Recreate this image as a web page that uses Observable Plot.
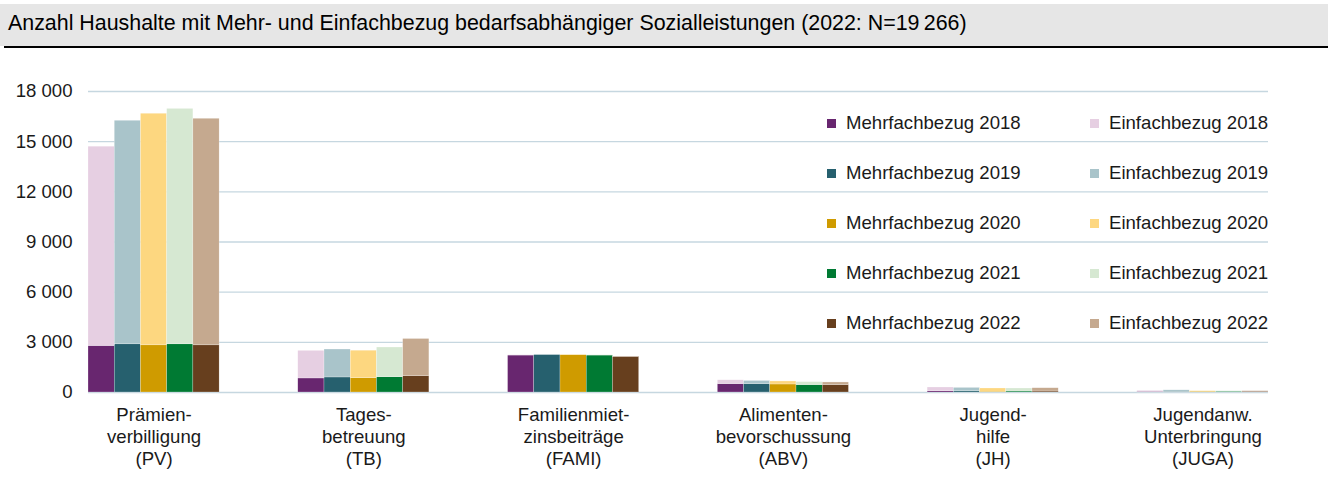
<!DOCTYPE html>
<html>
<head>
<meta charset="utf-8">
<script src="https://cdn.jsdelivr.net/npm/d3@7"></script>
<script src="https://cdn.jsdelivr.net/npm/@observablehq/plot@0.6"></script>
<style>
  body { margin: 0; background: #fff; font-family: "Liberation Sans", Arial, sans-serif; }
  #wrap { position: relative; width: 1328px; height: 477px; overflow: hidden; }
  #title { position: absolute; left: 0; top: 4px; width: 1328px; height: 42px; background: #e6e6e6; }
  #title span { position: absolute; left: 8px; top: 7px; font-size: 21.4px; color: #000; white-space: nowrap; }
  #rule { position: absolute; left: 4px; top: 46px; width: 1324px; height: 1.5px; background: #000; }
  .layer { position: absolute; left: 0; top: 50px; }
  .leg { position: absolute; font-size: 18.6px; color: #1a1a1a; white-space: nowrap; line-height: 20px; }
  .sw { position: absolute; width: 9px; height: 9px; }
</style>
</head>
<body>
<div id="wrap">
  <div id="title"><span>Anzahl Haushalte mit Mehr- und Einfachbezug bedarfsabhängiger Sozialleistungen (2022: N=19&#8239;266)</span></div>
  <div id="rule"></div>
  <div id="grid" class="layer"></div>
  <div id="chart" class="layer"></div>
  <div id="legend"></div>
</div>
<script>
// ---- data ----
const categories = ["PV", "TB", "FAMI", "ABV", "JH", "JUGA"];
const categoryLabels = [
  "Prämien-\nverbilligung\n(PV)",
  "Tages-\nbetreuung\n(TB)",
  "Familienmiet-\nzinsbeiträge\n(FAMI)",
  "Alimenten-\nbevorschussung\n(ABV)",
  "Jugend-\nhilfe\n(JH)",
  "Jugendanw.\nUnterbringung\n(JUGA)"
];
const years = [2018, 2019, 2020, 2021, 2022];
// values per year, in category order
const mehrfach2018 = [2780, 840, 2210, 500, 70, 40];
const mehrfach2019 = [2880, 900, 2250, 500, 70, 40];
const mehrfach2020 = [2820, 850, 2230, 480, 50, 50];
const mehrfach2021 = [2880, 910, 2210, 440, 60, 50];
const mehrfach2022 = [2820, 970, 2130, 440, 60, 50];
const einfach2018 = [11920, 1650, 20, 230, 230, 60];
const einfach2019 = [13370, 1670, 20, 190, 205, 90];
const einfach2020 = [13850, 1650, 20, 180, 190, 30];
const einfach2021 = [14080, 1780, 20, 180, 180, 30];
const einfach2022 = [13550, 2230, 20, 160, 195, 30];
const yTicks = [0, 3000, 6000, 9000, 12000, 15000, 18000];

const seriesNames = [
  "Mehrfachbezug 2018", "Mehrfachbezug 2019", "Mehrfachbezug 2020", "Mehrfachbezug 2021", "Mehrfachbezug 2022",
  "Einfachbezug 2018", "Einfachbezug 2019", "Einfachbezug 2020", "Einfachbezug 2021", "Einfachbezug 2022"
];
const seriesColors = [
  "#68266f", "#26606e", "#cf9b00", "#007a33", "#673f1e",
  "#e6cfe2", "#a9c4ca", "#fdd780", "#d6e8d2", "#c5a98f"
];

// ---- table ----
const mehr = [mehrfach2018, mehrfach2019, mehrfach2020, mehrfach2021, mehrfach2022];
const einf = [einfach2018, einfach2019, einfach2020, einfach2021, einfach2022];
const rows = [];
years.forEach((yr, i) => categories.forEach((c, j) => rows.push({cat: c, year: String(yr), series: "Mehrfachbezug " + yr, value: mehr[i][j]})));
years.forEach((yr, i) => categories.forEach((c, j) => rows.push({cat: c, year: String(yr), series: "Einfachbezug " + yr, value: einf[i][j]})));

const labelOf = new Map(categories.map((c, i) => [c, categoryLabels[i]]));
const fmt = d => d3.format(",")(d).replace(/,/g, " ");

const font = '"Liberation Sans", Arial, sans-serif';
const fs = 18.6;
const frame = {
  width: 1328,
  height: 427,
  marginLeft: 88,
  marginRight: 60,
  marginTop: 41,
  marginBottom: 85
};

// background layer: grid + y axis
const grid = Plot.plot({
  ...frame,
  style: {fontFamily: font, fontSize: fs + "px", color: "#1a1a1a", background: "transparent"},
  y: {domain: [0, 18000], axis: null},
  marks: [
    Plot.ruleY(yTicks, {stroke: "#c6d7e0", strokeWidth: 1.3}),
    Plot.axisY({ticks: yTicks, tickFormat: fmt, tickSize: 0, tickPadding: 16, label: null, fontSize: fs})
  ]
});
document.getElementById("grid").appendChild(grid);

// foreground layer: grouped stacked bars
const chart = Plot.plot({
  ...frame,
  style: {fontFamily: font, fontSize: fs + "px", color: "#1a1a1a", background: "transparent"},
  fx: {domain: categories, paddingInner: 0.375, paddingOuter: 0, round: false, label: null, axis: null},
  x: {domain: years.map(String), padding: 0, round: false, axis: null},
  y: {domain: [0, 18000], axis: null},
  color: {domain: seriesNames, range: seriesColors},
  marks: [
    Plot.barY(rows, Plot.stackY({fx: "cat", x: "year", y: "value", fill: "series", order: null, inset: 0, stroke: "#ffffff", strokeWidth: 0.4, strokeOpacity: 0.6})),
    Plot.axisFx({anchor: "bottom", tickFormat: d => labelOf.get(d), tickSize: 0, tickPadding: 13, lineHeight: 1.18, fontSize: fs, label: null})
  ]
});
document.getElementById("chart").appendChild(chart);

// ---- legend (HTML overlay) ----
const legend = document.getElementById("legend");
const rowY = [123, 173, 223, 273, 323];
seriesNames.forEach((name, i) => {
  const col = i < 5 ? 0 : 1;
  const r = i % 5;
  const swX = col === 0 ? 827 : 1090;
  const sw = document.createElement("div");
  sw.className = "sw";
  sw.style.left = swX + "px";
  sw.style.top = (rowY[r] - 4.5) + "px";
  sw.style.background = seriesColors[i];
  legend.appendChild(sw);
  const t = document.createElement("div");
  t.className = "leg";
  t.style.left = (swX + 19) + "px";
  t.style.top = (rowY[r] - 10) + "px";
  t.textContent = name;
  legend.appendChild(t);
});
</script>
</body>
</html>
